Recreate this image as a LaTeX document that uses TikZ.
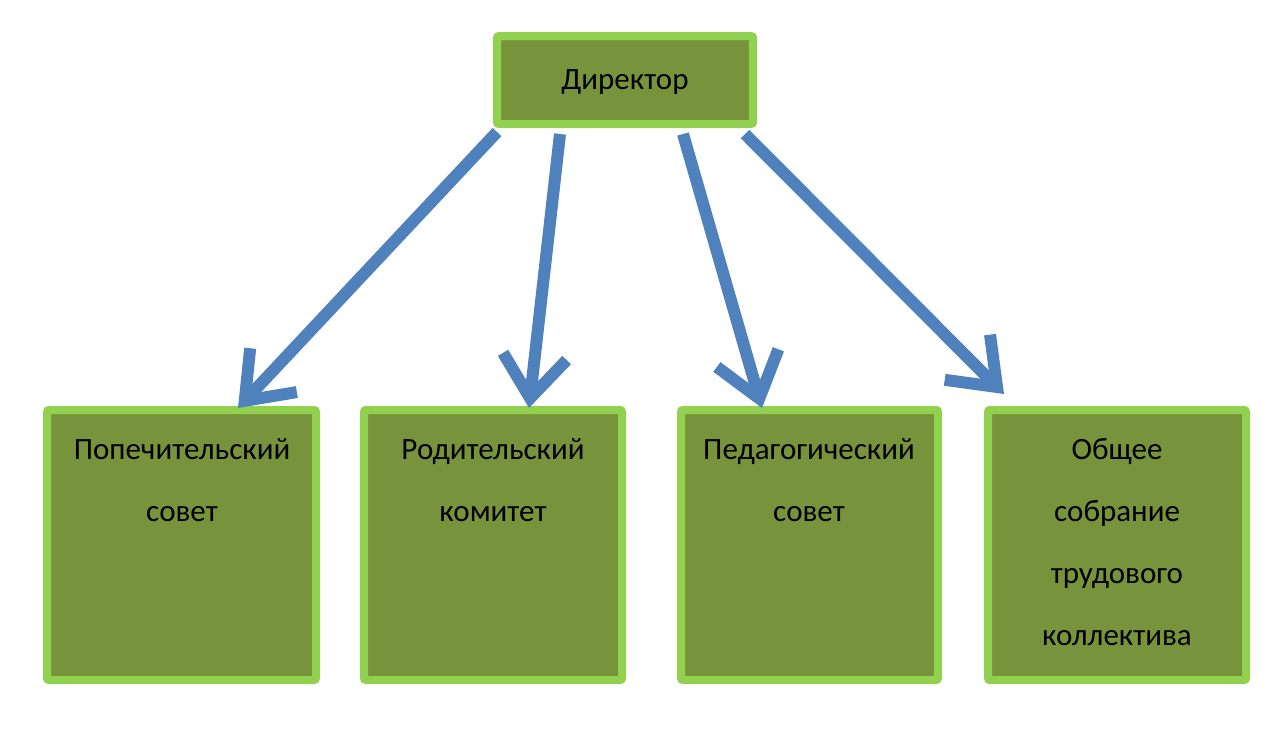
\documentclass[tikz,border=0pt]{standalone}
\usepackage{fontspec}
\setmainfont{Carlito}
\usetikzlibrary{arrows.meta}
\definecolor{box_fill}{HTML}{77933C}
\definecolor{box_edge}{HTML}{92D050}
\definecolor{arrow_blue}{HTML}{4F81BD}
\tikzset{
  unitbox/.style={draw=box_edge, fill=box_fill, line width=8pt, rounded corners=2pt},
  unittext/.style={font=\fontsize{31}{62}\selectfont, align=center, anchor=north, inner sep=0pt},
  link/.style={draw=arrow_blue, line width=12pt, -{Straight Barb[length=42pt,width=64pt,line width=12pt]}}
}
\begin{document}
\begin{tikzpicture}[x=1pt,y=-1pt]
        \useasboundingbox (0,0) rectangle (1286,740);
        % Директор
        \draw[unitbox] (497,36) rectangle (753,124);
        \node[font=\fontsize{31}{37}\selectfont] (dir) at (625,82) {Директор};
        % Нижние блоки
        \draw[unitbox] (47,410) rectangle (316,680);
        \draw[unitbox] (364,410) rectangle (622,680);
        \draw[unitbox] (681,410) rectangle (938,680);
        \draw[unitbox] (988,410) rectangle (1246,680);
        \node[unittext] (pop) at (182,438) {Попечительский\\совет};
        \node[unittext] (rod) at (493,438) {Родительский\\комитет};
        \node[unittext] (ped) at (809,438) {Педагогический\\совет};
        \node[unittext] (obs) at (1117,438) {Общее\\собрание\\трудового\\коллектива};
        % Стрелки
        \coordinate (a1) at (497,132); \coordinate (b1) at (238,408);
        \coordinate (a2) at (560,134); \coordinate (b2) at (529,408);
        \coordinate (a3) at (683,134); \coordinate (b3) at (762,408);
        \coordinate (a4) at (745,134); \coordinate (b4) at (1004,394);
        \draw[link] (a1) -- (b1);
        \draw[link] (a2) -- (b2);
        \draw[link] (a3) -- (b3);
        \draw[link] (a4) -- (b4);
\end{tikzpicture}
\end{document}
